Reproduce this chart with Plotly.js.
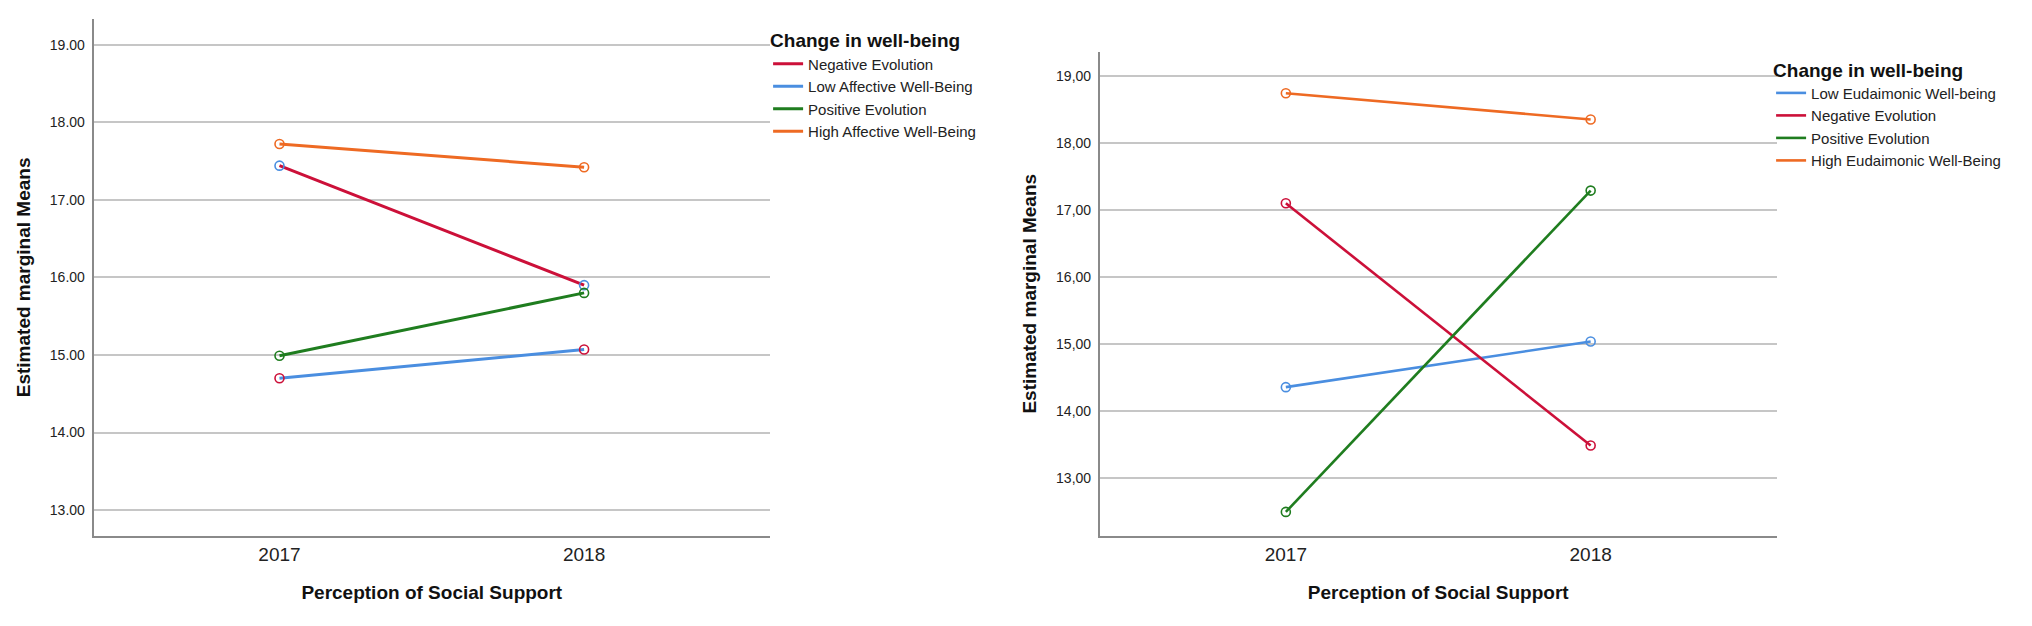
<!DOCTYPE html>
<html>
<head>
<meta charset="utf-8">
<script src="https://cdn.plot.ly/plotly-3.0.1.min.js"></script>
<style>
  html, body { margin: 0; padding: 0; background: #fff; }
  #chart { width: 2032px; height: 626px; }
</style>
</head>
<body>
<div id="chart"></div>
<script>
// estimated marginal means
const years = ["2017", "2018"];

const affectiveNames = ["Negative Evolution", "Low Affective Well-Being", "Positive Evolution", "High Affective Well-Being"];
const affectiveNegative = [17.44, 15.90];
const affectiveLow = [14.70, 15.07];
const affectivePositive = [14.99, 15.80];
const affectiveHigh = [17.72, 17.42];

const eudaimonicNames = ["Low Eudaimonic Well-being", "Negative Evolution", "Positive Evolution", "High Eudaimonic Well-Being"];
const eudaimonicLow = [14.36, 15.04];
const eudaimonicNegative = [17.10, 13.49];
const eudaimonicPositive = [12.50, 17.29];
const eudaimonicHigh = [18.74, 18.35];

const yTickValues = [13, 14, 15, 16, 17, 18, 19];
const leftTickText = ["13.00", "14.00", "15.00", "16.00", "17.00", "18.00", "19.00"];
const rightTickText = ["13,00", "14,00", "15,00", "16,00", "17,00", "18,00", "19,00"];

const RED = "#cc1039";
const BLUE = "#4a8ee0";
const GREEN = "#1f7d1f";
const ORANGE = "#ee6a23";
const FONT = "Arial, 'Liberation Sans', sans-serif";

function seriesTraces(name, values, lineColor, markerColor, width, axes, legend) {
    let line = {
        x: years, y: values, name: name,
        type: "scatter", mode: "lines",
        xaxis: axes[0], yaxis: axes[1], legend: legend,
        line: { color: lineColor, width: width },
        hoverinfo: "skip"
    };
    // SPSS draws the markers as their own layer, sometimes in another series' colour
    let markers = {
        x: years, y: values, name: name,
        type: "scatter", mode: "markers",
        xaxis: axes[0], yaxis: axes[1], showlegend: false,
        marker: { symbol: "circle-open", size: 9, color: markerColor, line: { width: 1.6 } },
        hoverinfo: "skip"
    };
    return [line, markers];
}

function yAxis(domain, range, tickText, anchor) {
    return {
        domain: domain, range: range, anchor: anchor,
        tickvals: yTickValues, ticktext: tickText,
        showgrid: true, gridcolor: "#c6c6c6", gridwidth: 2,
        showline: true, linecolor: "#8a8a8a", linewidth: 2,
        zeroline: false, ticks: "", ticklabelstandoff: 4,
        tickfont: { family: FONT, size: 14, color: "#222" },
        title: { text: "Estimated marginal Means", standoff: 14,
                 font: { family: FONT, size: 19, color: "#111", weight: "bold" } }
    };
}

function xAxis(domain, anchor) {
    return {
        domain: domain, anchor: anchor, type: "category",
        range: [-0.61, 1.61],
        showgrid: false, zeroline: false,
        showline: true, linecolor: "#8a8a8a", linewidth: 2,
        ticks: "", ticklabelstandoff: 0,
        tickfont: { family: FONT, size: 19, color: "#222" },
        title: { text: "Perception of Social Support", standoff: 22,
                 font: { family: FONT, size: 19, color: "#111", weight: "bold" } }
    };
}

function legendBox(x, y) {
    return {
        x: x, y: y, xanchor: "left", yanchor: "top",
        bgcolor: "rgba(0,0,0,0)", borderwidth: 0,
        itemwidth: 30, tracegroupgap: 0, traceorder: "normal",
        font: { family: FONT, size: 15, color: "#222" },
        title: { text: "Change in well-being", font: { family: FONT, size: 19, color: "#111", weight: "bold" } }
    };
}

let traces = [];
let left = ["x", "y"];
let right = ["x2", "y2"];

traces.push(...seriesTraces(affectiveNames[0], affectiveNegative, RED, BLUE, 3, left, "legend"));
traces.push(...seriesTraces(affectiveNames[1], affectiveLow, BLUE, RED, 3, left, "legend"));
traces.push(...seriesTraces(affectiveNames[2], affectivePositive, GREEN, GREEN, 3, left, "legend"));
traces.push(...seriesTraces(affectiveNames[3], affectiveHigh, ORANGE, ORANGE, 3, left, "legend"));

traces.push(...seriesTraces(eudaimonicNames[0], eudaimonicLow, BLUE, BLUE, 2.6, right, "legend2"));
traces.push(...seriesTraces(eudaimonicNames[1], eudaimonicNegative, RED, RED, 2.6, right, "legend2"));
traces.push(...seriesTraces(eudaimonicNames[2], eudaimonicPositive, GREEN, GREEN, 2.6, right, "legend2"));
traces.push(...seriesTraces(eudaimonicNames[3], eudaimonicHigh, ORANGE, ORANGE, 2.6, right, "legend2"));

let layout = {
    width: 2032, height: 626,
    margin: { l: 0, r: 0, t: 0, b: 0 },
    paper_bgcolor: "#fff", plot_bgcolor: "#fff",
    showlegend: true,
    xaxis: xAxis([0.0461, 0.3789], "y"),
    yaxis: yAxis([0.1442, 0.9696], [12.67, 19.33], leftTickText, "x"),
    xaxis2: xAxis([0.5413, 0.8743], "y2"),
    yaxis2: yAxis([0.1442, 0.9174], [12.145, 19.36], rightTickText, "x2"),
    legend: legendBox(0.378, 0.9636),
    legend2: legendBox(0.8716, 0.917)
};

Plotly.newPlot("chart", traces, layout, { displayModeBar: false, staticPlot: true });
</script>
</body>
</html>
